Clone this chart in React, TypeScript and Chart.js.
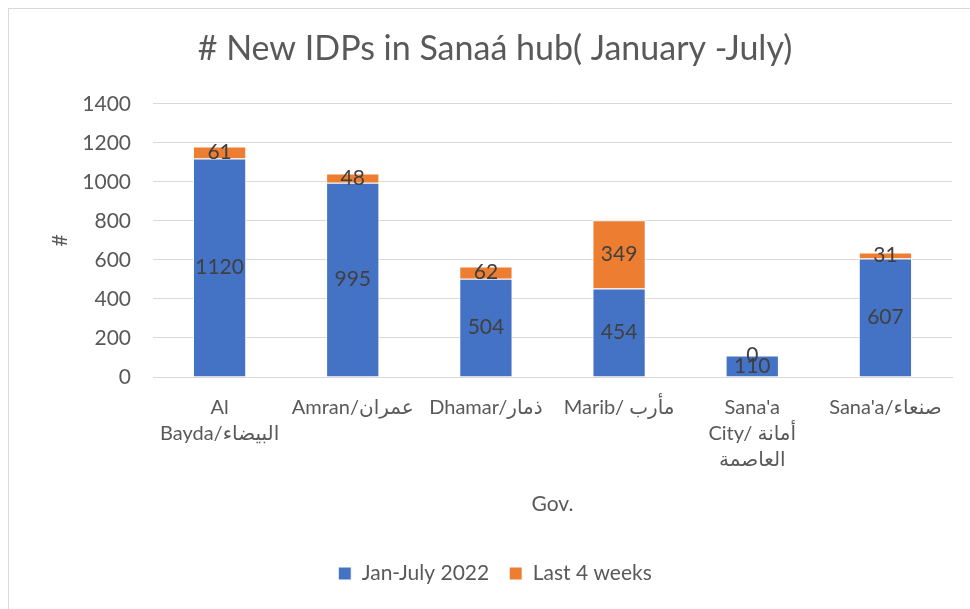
import React, { useEffect, useRef } from "react";
import { Chart, registerables } from "chart.js";

Chart.register(...registerables);

const categories: (string | string[])[] = [
  ["Al", "Bayda/البيضاء"],
  "Amran/عمران",
  "Dhamar/ذمار",
  "Marib/ مأرب",
  ["Sana'a", "City/ أمانة", "العاصمة"],
  "Sana'a/صنعاء",
];
const janJuly2022 = [1120, 995, 504, 454, 110, 607];
const last4Weeks = [61, 48, 62, 349, 0, 31];
const yTicks = [0, 200, 400, 600, 800, 1000, 1200, 1400];

const FONT = "Lato, 'DejaVu Sans', sans-serif";
const GRAY = "#595959";

const barLabelPlugin = {
  id: "barLabels",
  afterDatasetsDraw(chart: any) {
    const ctx = chart.ctx;
    ctx.save();
    ctx.font = `21px ${FONT}`;
    ctx.fillStyle = "#404040";
    ctx.textAlign = "center";
    ctx.textBaseline = "middle";
    chart.data.datasets.forEach((ds: any, di: number) => {
      const meta = chart.getDatasetMeta(di);
      meta.data.forEach((bar: any, i: number) => {
        const p = bar.getProps(["x", "y", "base"], true);
        ctx.fillText(String(ds.data[i]), p.x, (p.y + p.base) / 2);
      });
    });
    ctx.restore();
  },
};

export default function App() {
  const ref = useRef<HTMLCanvasElement>(null);
  useEffect(() => {
    if (!ref.current) return;
    const chart = new Chart(ref.current, {
      type: "bar",
      data: {
        labels: categories as any,
        datasets: [
          { label: "Jan-July 2022", data: janJuly2022, backgroundColor: "#4472C4", borderColor: "#ffffff", borderWidth: 1 },
          { label: "Last 4 weeks", data: last4Weeks, backgroundColor: "#ED7D31", borderColor: "#ffffff", borderWidth: 1 },
        ],
      },
      plugins: [barLabelPlugin],
      options: {
        animation: false,
        responsive: false,
        devicePixelRatio: 1,
        layout: { padding: { left: 38, right: 18, top: 0, bottom: 15 } },
        datasets: { bar: { barPercentage: 0.4, categoryPercentage: 1 } },
        plugins: {
          tooltip: { enabled: false },
          title: {
            display: true,
            text: "# New IDPs in Sanaá hub( January -July)",
            color: GRAY,
            font: { family: FONT, size: 34, weight: "normal" },
            padding: { top: 29, bottom: 34 },
          },
          legend: {
            position: "bottom",
            labels: {
              color: GRAY,
              font: { family: FONT, size: 21 },
              boxWidth: 13,
              boxHeight: 13,
              padding: 20,
            },
          },
        },
        scales: {
          x: {
            stacked: true,
            afterFit: (s: any) => { s.height = 166; },
            grid: { display: false, drawTicks: false },
            border: { display: true, color: "#d9d9d9" },
            ticks: {
              color: GRAY,
              font: { family: FONT, size: 20, lineHeight: 1.3 },
              padding: 18,
              maxRotation: 0,
              autoSkip: false,
            },
            title: {
              display: true,
              text: "Gov.",
              color: GRAY,
              font: { family: FONT, size: 21 },
              padding: { top: 0, bottom: 26 },
            },
          },
          y: {
            stacked: true,
            min: 0,
            max: 1400,
            afterFit: (s: any) => { s.width = 115; },
            afterBuildTicks: (s: any) => { s.ticks = yTicks.map((v) => ({ value: v })); },
            grid: { color: "#d9d9d9", drawTicks: false },
            border: { display: false },
            ticks: {
              color: GRAY,
              font: { family: FONT, size: 21 },
              padding: 22,
              callback: (v: any) => String(v),
            },
            title: {
              display: true,
              text: "#",
              color: GRAY,
              font: { family: FONT, size: 21 },
              padding: { top: 10, bottom: 0 },
            },
          },
        },
      },
    });
    return () => chart.destroy();
  }, []);

  return (
    <div style={{ position: "fixed", left: 0, top: 0, width: 970, height: 609, overflow: "hidden", background: "#fff" }}>
      <div style={{ position: "absolute", left: 8, top: 8, width: 1000, height: 700, border: "1px solid #d9d9d9", boxSizing: "border-box" }} />
      <canvas ref={ref} width={970} height={609} style={{ position: "absolute", left: 0, top: 0, width: 970, height: 609 }} />
    </div>
  );
}
